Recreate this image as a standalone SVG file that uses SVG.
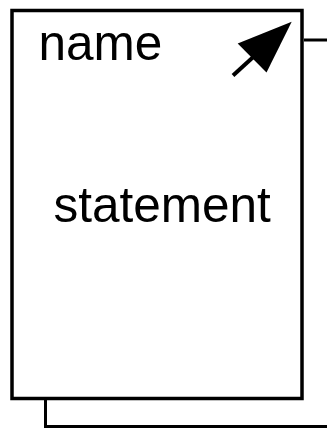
<svg xmlns="http://www.w3.org/2000/svg" width="327" height="429" viewBox="0 0 327 429">
<style>
.ln{fill:none;stroke:#000;stroke-width:3.5}
.t{font-family:"Liberation Sans",Arial,sans-serif;font-size:49.5px;fill:#000}
</style>
<rect width="327" height="429" fill="#fff"/>
<g id="connectors">
<polyline class="ln" points="304,40 327,40" style="stroke-width:3"/>
<polyline class="ln" points="45.5,400 45.5,426.5 327,426.5" style="stroke-width:3"/>
</g>
<g id="node">
<rect class="ln" x="12" y="10.5" width="290" height="388"/>
<text class="t" x="38.5" y="59.5">name</text>
<text class="t" x="53.5" y="221.5">statement</text>
<line x1="233" y1="75.5" x2="262" y2="49" stroke="#000" stroke-width="4"/>
<polygon points="291.7,21.7 237.7,43.5 266.5,72.5" fill="#000"/>
</g>
</svg>
